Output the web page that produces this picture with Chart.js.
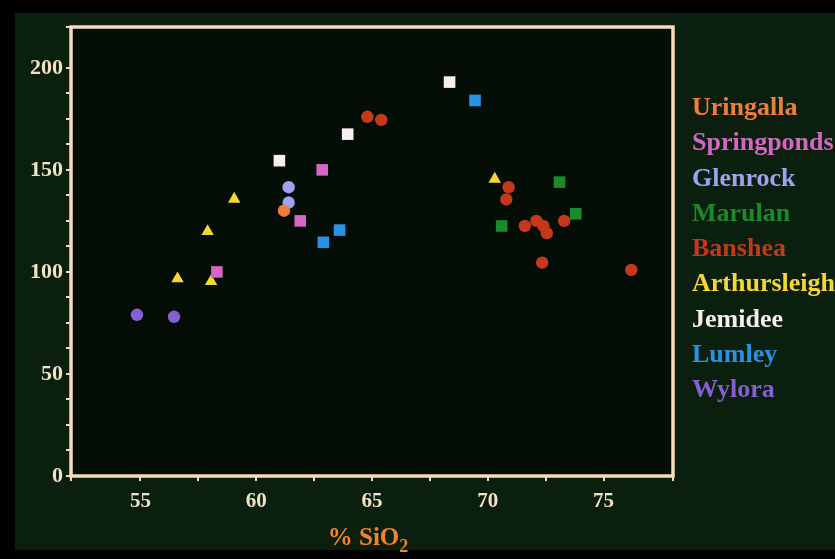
<!DOCTYPE html>
<html>
<head>
<meta charset="utf-8">
<title>SiO2 scatter</title>
<script src="https://cdn.jsdelivr.net/npm/chart.js@4.4.1/dist/chart.umd.min.js"></script>
<style>
  html, body { margin: 0; padding: 0; background: #000; }
  #wrap { width: 835px; height: 559px; }
</style>
</head>
<body>
<div id="wrap"><canvas id="chart" width="835" height="559"></canvas></div>
<script>
// Localidades y sus muestras (% SiO2 en x, valor en y)
const groupNames = ['Uringalla', 'Springponds', 'Glenrock', 'Marulan', 'Banshea',
                    'Arthursleigh', 'Jemidee', 'Lumley', 'Wylora'];

const sio2Values = [
    [61.2],
    [62.85, 61.9, 58.3],
    [61.4, 61.4],
    [73.1, 73.8, 70.6],
    [64.8, 65.4, 70.9, 70.8, 71.6, 72.1, 72.4, 72.55, 73.3, 72.35, 76.2],
    [59.05, 57.9, 56.6, 58.05, 70.3],
    [61.0, 63.95, 68.35],
    [69.45, 63.6, 62.9],
    [54.85, 56.45]
];

const yValues = [
    [130],
    [150, 125, 100],
    [141.5, 134],
    [144, 128.5, 122.5],
    [176, 174.5, 141.5, 135.5, 122.5, 125, 122.5, 119, 125, 104.5, 101],
    [135.7, 119.8, 96.7, 95.3, 145.5],
    [154.5, 167.5, 193],
    [184, 120.5, 114.5],
    [79, 78]
];

const xTickLabels = [55, 60, 65, 70, 75];
const yTickLabels = [0, 50, 100, 150, 200];

// Estilos por localidad
const groupColors = ['#f27d38', '#d466c4', '#9ea2f0', '#1a8a2a', '#c6381a',
                     '#f6d634', '#f8eef2', '#2a92e6', '#8460d4'];
const groupShapes = ['circle', 'rect', 'circle', 'rect', 'circle',
                     'triangle', 'rect', 'rect', 'circle'];

const frameColor = '#f6dcbd';
const tickColor = '#f2e2c4';
const serif = "'Liberation Serif', 'Times New Roman', serif";

const datasets = groupNames.map((name, i) => ({
    label: name,
    data: sio2Values[i].map((x, j) => ({ x: x, y: yValues[i][j] })),
    backgroundColor: groupColors[i],
    borderColor: groupColors[i],
    borderWidth: 0,
    pointStyle: groupShapes[i],
    pointRadius: groupShapes[i] === 'circle' ? 6.2 : (groupShapes[i] === 'rect' ? 8.2 : 7.2)
}));

// Fondo de la diapositiva y del área del gráfico
const backdrop = {
    id: 'backdrop',
    beforeDraw(chart) {
        const ctx = chart.ctx;
        const a = chart.chartArea;
        ctx.save();
        ctx.fillStyle = '#000';
        ctx.fillRect(0, 0, chart.width, chart.height);
        ctx.fillStyle = '#0b1f0e';
        ctx.fillRect(15, 13, chart.width - 15, 537);
        ctx.fillStyle = '#040d06';
        ctx.fillRect(a.left, a.top, a.right - a.left, a.bottom - a.top);
        ctx.restore();
    },
    beforeDatasetsDraw(chart) {
        const ctx = chart.ctx;
        const a = chart.chartArea;
        ctx.save();
        ctx.strokeStyle = frameColor;
        ctx.lineWidth = 3.5;
        ctx.strokeRect(a.left, a.top, a.right - a.left, a.bottom - a.top);
        ctx.restore();
    }
};

// Leyenda en texto coloreado y título del eje x con subíndice
const textLegend = {
    id: 'textLegend',
    afterDraw(chart) {
        const ctx = chart.ctx;
        const a = chart.chartArea;
        ctx.save();
        ctx.font = 'bold 26px ' + serif;
        ctx.textAlign = 'left';
        ctx.textBaseline = 'alphabetic';
        groupNames.forEach((name, i) => {
            ctx.fillStyle = groupColors[i];
            ctx.fillText(name, a.right + 19, 115 + i * 35.25);
        });

        ctx.fillStyle = '#f0852a';
        const main = '% SiO';
        ctx.font = 'bold 25px ' + serif;
        const w1 = ctx.measureText(main).width;
        ctx.font = 'bold 18px ' + serif;
        const w2 = ctx.measureText('2').width;
        const x0 = (a.left + a.right) / 2 - (w1 + w2) / 2 - 4;
        ctx.font = 'bold 25px ' + serif;
        ctx.fillText(main, x0, 545);
        ctx.font = 'bold 18px ' + serif;
        ctx.fillText('2', x0 + w1, 552);
        ctx.restore();
    }
};

const ctx = document.getElementById('chart').getContext('2d');
new Chart(ctx, {
    type: 'scatter',
    data: { datasets: datasets },
    options: {
        responsive: false,
        animation: false,
        layout: { padding: { left: 0, top: 27, right: 162, bottom: 0 } },
        plugins: {
            legend: { display: false },
            tooltip: { enabled: false }
        },
        scales: {
            x: {
                type: 'linear',
                min: 52,
                max: 78,
                afterFit: (scale) => { scale.height = 83; },
                border: { display: false },
                grid: {
                    drawOnChartArea: false,
                    drawTicks: true,
                    tickLength: 5,
                    color: frameColor,
                    lineWidth: 2
                },
                ticks: {
                    stepSize: 2.5,
                    autoSkip: false,
                    maxRotation: 0,
                    padding: 8,
                    color: tickColor,
                    font: { family: serif, weight: 'bold', size: 21 },
                    callback: (v) => xTickLabels.includes(v) ? String(v) : ''
                }
            },
            y: {
                type: 'linear',
                min: 0,
                max: 220,
                afterFit: (scale) => { scale.width = 71; },
                border: { display: false },
                grid: {
                    drawOnChartArea: false,
                    drawTicks: true,
                    tickLength: 5,
                    color: frameColor,
                    lineWidth: 2
                },
                ticks: {
                    stepSize: 12.5,
                    autoSkip: false,
                    padding: 3,
                    color: tickColor,
                    font: { family: serif, weight: 'bold', size: 22 },
                    callback: (v) => yTickLabels.includes(v) ? String(v) : ''
                }
            }
        }
    },
    plugins: [backdrop, textLegend]
});
</script>
</body>
</html>
